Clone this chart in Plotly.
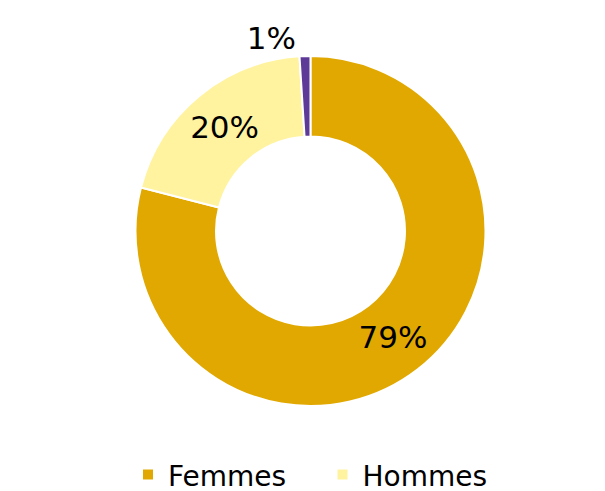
import plotly.graph_objects as go

labels = ["Femmes", "Hommes", "Non Genré"]
values = [79, 20, 1]
colors = ["#E0A800", "#FFF3A0", "#5E3A98"]
text_positions = ["inside", "inside", "outside"]

fig = go.Figure(
    data=[
        go.Pie(
            labels=labels,
            values=values,
            hole=0.54,
            sort=False,
            direction="clockwise",
            rotation=0,
            domain=dict(x=[0.025, 1], y=[0, 1]),
            marker=dict(colors=colors, line=dict(color="white", width=2)),
            texttemplate="%{percent:.0%}",
            textposition=text_positions,
            insidetextorientation="horizontal",
            textfont=dict(family="DejaVu Sans", size=31, color="black"),
            outsidetextfont=dict(family="DejaVu Sans", size=31, color="black"),
        )
    ]
)

fig.update_layout(
    width=605,
    height=491,
    margin=dict(l=0, r=0, t=48, b=93),
    paper_bgcolor="white",
    plot_bgcolor="white",
    showlegend=True,
    legend=dict(
        orientation="h",
        xref="container",
        yref="container",
        x=0.5,
        xanchor="center",
        y=0.1,
        yanchor="top",
        font=dict(family="DejaVu Sans", size=28, color="black"),
        itemwidth=30,
    ),
)

fig.write_html("out.html")
